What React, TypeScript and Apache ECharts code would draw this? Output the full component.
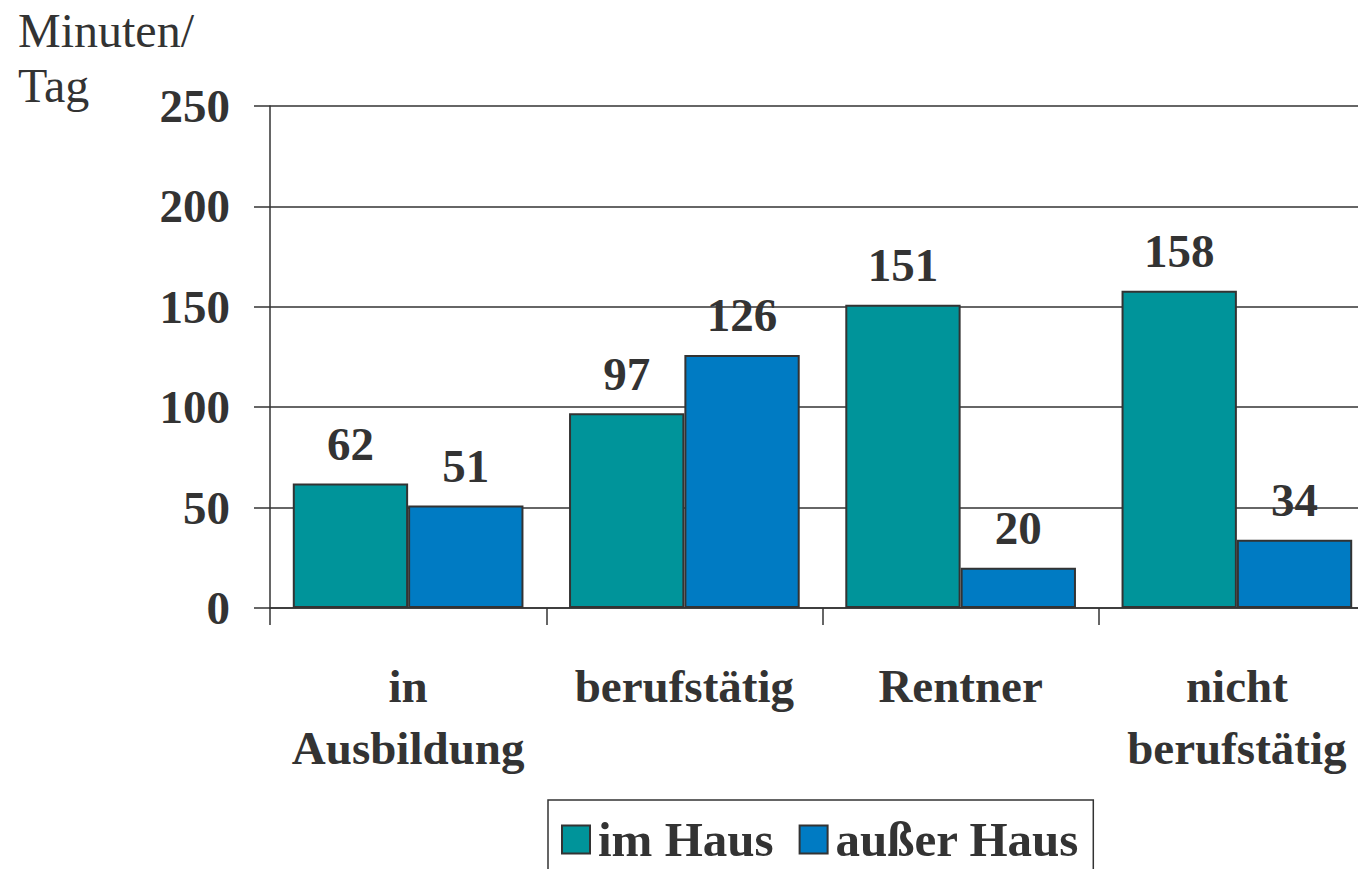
import React, { useEffect, useRef } from "react";
import * as echarts from "echarts";

const categories = ["in\nAusbildung", "berufstätig", "Rentner", "nicht\nberufstätig"];
const imHaus = [62, 97, 151, 158];
const ausserHaus = [51, 126, 20, 34];
const seriesNames = ["im Haus", "außer Haus"];
const yTitle = "Minuten/\nTag";

const FONT = '"Liberation Serif", "Times New Roman", serif';
const INK = "#333333";

export default function App() {
  const ref = useRef<HTMLDivElement>(null);
  useEffect(() => {
    if (!ref.current) return;
    const chart = echarts.init(ref.current, undefined, { renderer: "svg" });
    const labelStyle = {
      show: true,
      position: "top",
      distance: 16,
      color: INK,
      fontFamily: FONT,
      fontWeight: "bold",
      fontSize: 47,
    };
    chart.setOption({
      animation: false,
      backgroundColor: "#ffffff",
      textStyle: { fontFamily: FONT },
      title: {
        text: yTitle,
        left: 13,
        top: -2,
        textStyle: {
          fontFamily: FONT,
          fontWeight: "normal",
          fontSize: 48,
          lineHeight: 55,
          color: INK,
        },
      },
      legend: {
        left: 548,
        top: 800,
        orient: "horizontal",
        padding: [15, 14, 16, 13],
        itemGap: 25,
        itemWidth: 28,
        itemHeight: 28,
        borderColor: INK,
        borderWidth: 1.5,
        borderRadius: 0,
        icon: "rect",
        textStyle: {
          fontFamily: FONT,
          fontWeight: "bold",
          fontSize: 49,
          color: INK,
          padding: [0, 0, 0, 3],
        },
        data: seriesNames,
      },
      grid: { left: 270, top: 106, bottom: 261, right: 25, containLabel: false },
      xAxis: {
        type: "category",
        data: categories,
        boundaryGap: true,
        axisLine: { show: true, lineStyle: { color: INK, width: 1.5 } },
        axisTick: { show: true, length: 17, lineStyle: { color: INK, width: 1.5 } },
        axisLabel: {
          margin: 47,
          interval: 0,
          color: INK,
          fontFamily: FONT,
          fontWeight: "bold",
          fontSize: 47,
          lineHeight: 62,
        },
        splitLine: { show: false },
      },
      yAxis: {
        type: "value",
        min: 0,
        max: 250,
        interval: 50,
        axisLine: { show: true, lineStyle: { color: INK, width: 1.5 } },
        axisTick: { show: true, length: 16, lineStyle: { color: INK, width: 1.5 } },
        axisLabel: {
          margin: 40,
          color: INK,
          fontFamily: FONT,
          fontWeight: "bold",
          fontSize: 47,
        },
        splitLine: { show: true, lineStyle: { color: INK, width: 1.5 } },
      },
      series: [
        {
          name: seriesNames[0],
          type: "bar",
          data: imHaus,
          barGap: "0%",
          barCategoryGap: "16.5%",
          itemStyle: { color: "#00949a", borderColor: INK, borderWidth: 2 },
          label: labelStyle,
        },
        {
          name: seriesNames[1],
          type: "bar",
          data: ausserHaus,
          barGap: "0%",
          barCategoryGap: "16.5%",
          itemStyle: { color: "#007bc3", borderColor: INK, borderWidth: 2 },
          label: labelStyle,
        },
      ],
    });
    return () => chart.dispose();
  }, []);
  return (
    <div
      style={{
        position: "fixed",
        left: 0,
        top: 0,
        width: 1358,
        height: 869,
        overflow: "hidden",
        background: "#fff",
      }}
    >
      <div ref={ref} style={{ width: 1400, height: 869 }} />
    </div>
  );
}
